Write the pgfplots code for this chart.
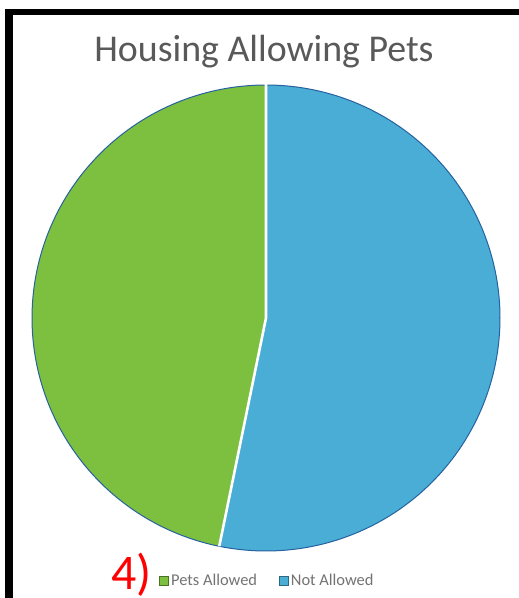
\documentclass[border=0pt]{standalone}
\usepackage{pgfplots}
\pgfplotsset{compat=1.18}
\usepackage{pgfplotstable}
\usepackage{fontspec}
\setmainfont{Carlito}
\definecolor{pgreen}{RGB}{125,191,62}
\definecolor{pblue}{RGB}{74,173,214}
\definecolor{edgeblue}{RGB}{38,98,160}
\definecolor{tgrey}{RGB}{89,89,89}
\definecolor{lgrey}{RGB}{115,115,115}

\pgfplotstableread{
label value
PetsAllowed 46.8
NotAllowed 53.2
}\pettable

\begin{document}
\begin{tikzpicture}
\pgfplotstablegetelem{0}{value}\of\pettable \pgfmathsetmacro{\va}{\pgfplotsretval}
\pgfplotstablegetelem{1}{value}\of\pettable \pgfmathsetmacro{\vb}{\pgfplotsretval}
\pgfmathsetmacro{\tot}{\va+\vb}
\pgfmathsetmacro{\share}{\va/\tot}
\pgfmathsetmacro{\gend}{90+360*\share}
\pgfmathsetmacro{\ex}{cos(\gend)}
\pgfmathsetmacro{\ey}{sin(\gend)}
\useasboundingbox (0bp,0bp) rectangle (519bp,598bp);
\fill[white] (0bp,0bp) rectangle (519bp,598bp);
\fill[black] (5bp,0bp) rectangle (13bp,589bp);
\fill[black] (5bp,583bp) rectangle (519bp,589bp);
\node[anchor=base, text=tgrey, font=\fontsize{38}{41}\selectfont, inner sep=0] at (264bp,536bp) {Housing Allowing Pets};
\begin{axis}[at={(266bp,280bp)}, anchor=center, scale only axis,
  width=468bp, height=466bp, xmin=-1, xmax=1, ymin=-1, ymax=1,
  hide axis, clip=false,
  legend image code/.code={\draw[#1, line width=0.8bp] (-2bp,-4.5bp) rectangle (7bp,4.5bp);},
  legend style={at={(0.503,-0.064)}, anchor=center, legend columns=2, draw=none, fill=none,
    font=\fontsize{16.5}{18}\selectfont, text=lgrey, inner sep=0pt,
    /tikz/every even column/.append style={column sep=20bp}},
  legend cell align=left]
\addplot[fill=pgreen, draw=edgeblue, line width=1bp, domain=90:\gend, samples=150, variable=\t, forget plot]
  ({cos(\t)},{sin(\t)}) -- (axis cs:0,0) -- cycle;
\addplot[fill=pblue, draw=edgeblue, line width=1bp, domain=\gend:450, samples=150, variable=\t, forget plot]
  ({cos(\t)},{sin(\t)}) -- (axis cs:0,0) -- cycle;
\addplot[white, line width=2.6bp, forget plot] coordinates {(0,1.005) (0,0) (\ex,\ey)};
\addlegendimage{fill=pgreen, draw=pgreen!60!black}
\addlegendentry{Pets Allowed}
\addlegendimage{fill=pblue, draw=pblue!60!black}
\addlegendentry{Not Allowed}
\end{axis}
\node[anchor=base west, text=red, font=\fontsize{50}{52}\selectfont, inner sep=0] at (111bp,9bp) {4)};
\end{tikzpicture}
\end{document}
